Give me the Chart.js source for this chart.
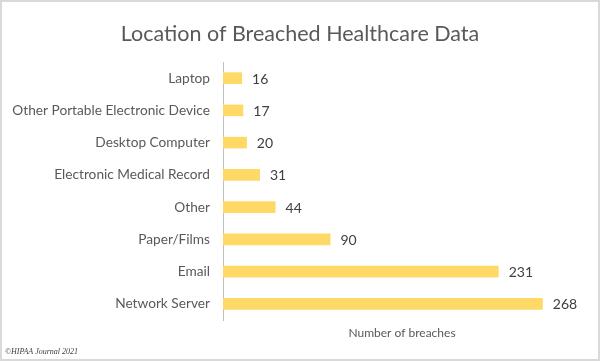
<!DOCTYPE html>
<html>
<head>
<meta charset="utf-8">
<script src="https://cdn.jsdelivr.net/npm/chart.js@4"></script>
<style>
  html, body { margin: 0; padding: 0; background: #fff; }
  #wrap { width: 600px; height: 361px; position: relative; }
</style>
</head>
<body>
<div id="wrap"><canvas id="chart" width="600" height="361"></canvas></div>
<script>
const categories = ["Laptop", "Other Portable Electronic Device", "Desktop Computer",
    "Electronic Medical Record", "Other", "Paper/Films", "Email", "Network Server"];
const breaches = [16, 17, 20, 31, 44, 90, 231, 268];
const axisMax = 300;
const chartTitle = "Location of Breached Healthcare Data";

const FONT = "Lato, 'Open Sans', sans-serif";

// white background, frame, title centred on the whole canvas, value labels, footnote
const extras = {
    id: "extras",
    beforeDraw(chart) {
        const ctx = chart.ctx;
        ctx.save();
        ctx.fillStyle = "#ffffff";
        ctx.fillRect(0, 0, chart.width, chart.height);
        ctx.restore();
    },
    afterDraw(chart) {
        const ctx = chart.ctx;
        ctx.save();
        ctx.strokeStyle = "#d9d9d9";
        ctx.lineWidth = 2;
        ctx.strokeRect(1, 1, chart.width - 2, chart.height - 2);

        ctx.font = "21.5px " + FONT;
        ctx.fillStyle = "#595959";
        ctx.textAlign = "center";
        ctx.textBaseline = "alphabetic";
        ctx.fillText(chartTitle, chart.width / 2, 41);

        const meta = chart.getDatasetMeta(0);
        ctx.font = "14px " + FONT;
        ctx.fillStyle = "#404040";
        ctx.textAlign = "left";
        ctx.textBaseline = "middle";
        meta.data.forEach((bar, i) => {
            ctx.fillText(String(breaches[i]), bar.x + 10, bar.y + 1);
        });

        ctx.font = "italic 8px 'Liberation Serif', serif";
        ctx.textBaseline = "alphabetic";
        ctx.fillText("©HIPAA Journal 2021", 5, 354);
        ctx.restore();
    }
};

new Chart(document.getElementById("chart"), {
    type: "bar",
    data: {
        labels: categories,
        datasets: [{
            data: breaches,
            backgroundColor: "#ffd966",
            borderWidth: 0,
            categoryPercentage: 1,
            barPercentage: 0.36,
        }],
    },
    options: {
        indexAxis: "y",
        responsive: false,
        animation: false,
        layout: { padding: { left: 0, right: 19, top: 62, bottom: 0 } },
        plugins: {
            legend: { display: false },
            tooltip: { enabled: false },
            title: { display: false },
        },
        scales: {
            x: {
                min: 0,
                max: axisMax,
                grid: { display: false, drawTicks: false },
                border: { display: false },
                ticks: { display: false },
                title: {
                    display: true,
                    text: "Number of breaches",
                    color: "#595959",
                    font: { family: FONT, size: 12 },
                    padding: { top: 0, bottom: 21 },
                },
                afterFit(scale) { scale.height = 41; },
            },
            y: {
                grid: { display: false, drawTicks: false },
                border: { display: true, color: "#bfbfbf", width: 1 },
                ticks: {
                    color: "#595959",
                    font: { family: FONT, size: 13.7 },
                    padding: 13,
                },
                afterFit(scale) { scale.width = 223; },
            },
        },
    },
    plugins: [extras],
});
</script>
</body>
</html>
